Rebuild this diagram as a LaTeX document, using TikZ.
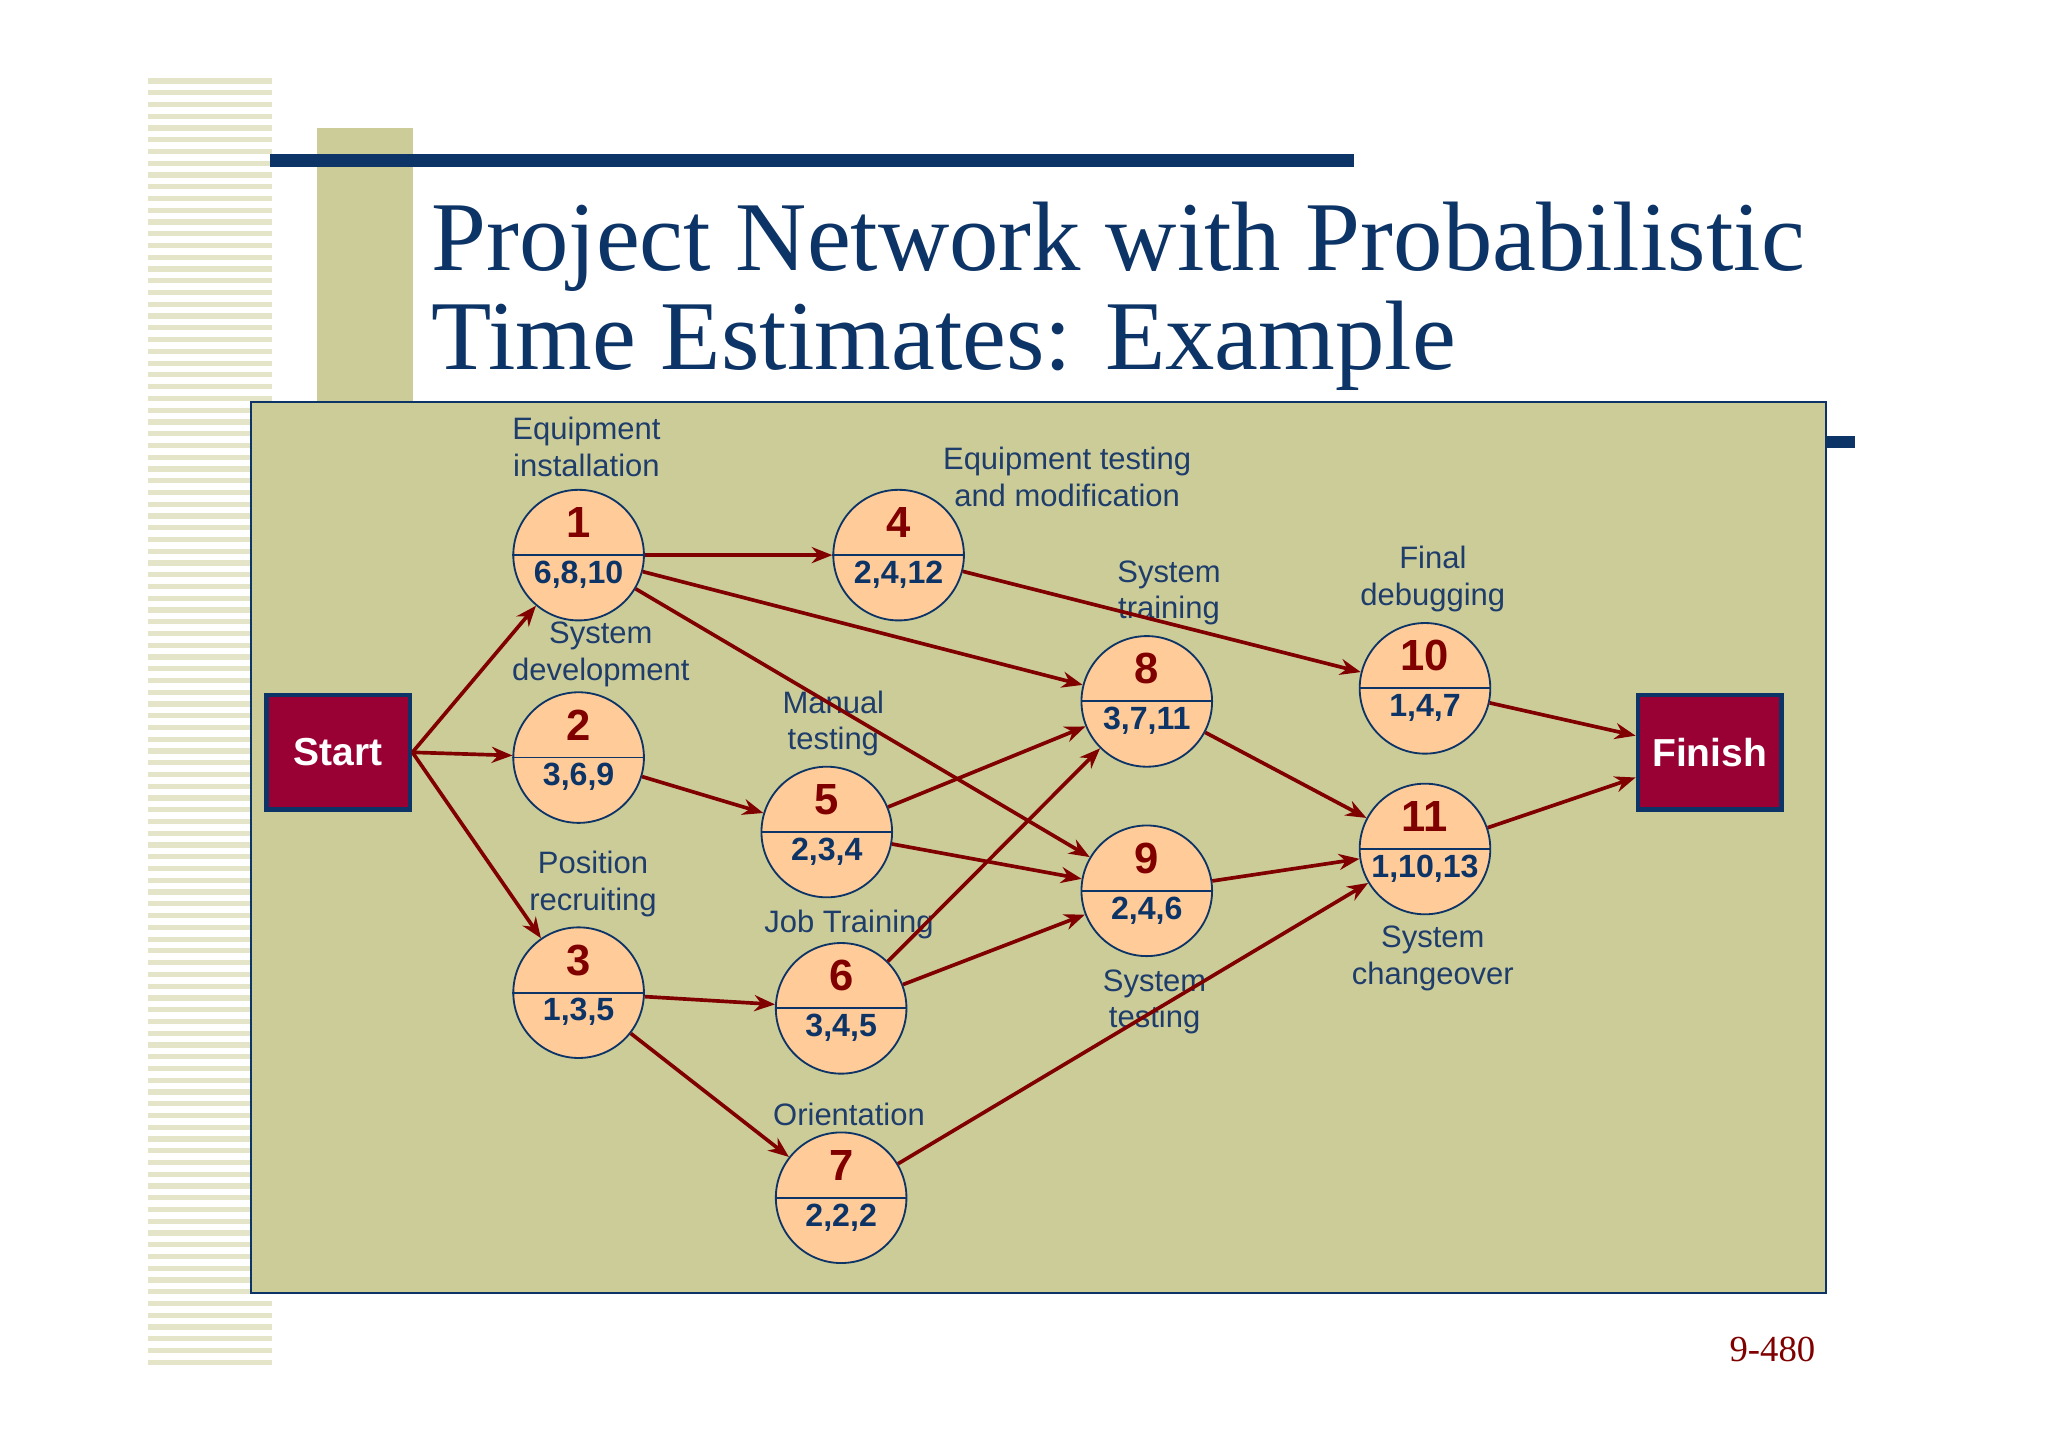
\documentclass[tikz,border=0pt]{standalone}
\usepackage{fontspec}
\setmainfont{Liberation Sans}
\newfontfamily\titlefont{Liberation Serif}
\usetikzlibrary{arrows.meta}
\definecolor{olive}{HTML}{CCCC99}
\definecolor{navy}{HTML}{0D3466}
\definecolor{lblue}{HTML}{1F3D6B}
\definecolor{dred}{HTML}{800000}
\definecolor{peach}{HTML}{FFCC99}
\definecolor{boxred}{HTML}{990033}
\definecolor{stripe}{HTML}{E4E4C8}
\tikzset{
 ev/.style={circle,draw=navy,line width=0.8pt,fill=peach,minimum size=2cm,inner sep=0pt},
 termbox/.style={draw=navy,line width=2pt,fill=boxred,minimum width=2.2cm,minimum height=1.75cm,text=white,font=\fontsize{17}{20}\selectfont\bfseries},
 lbl/.style={text=lblue,font=\fontsize{13.5}{16}\selectfont,align=center,inner sep=0pt},
 arr/.style={-{Stealth[length=9pt,width=7pt]},draw=dred,line width=1.6pt},
}
\newcommand{\evnode}[4]{%
 \node[ev] (#1) at (#2) {};
 \draw[navy,line width=0.8pt] (#1.west)--(#1.east);
 \node[text=dred,font=\fontsize{19}{22}\selectfont\bfseries] (#1n) at ([yshift=0.5cm]#1.center) {#3};
 \node[text=navy,font=\fontsize{14}{16}\selectfont\bfseries] (#1v) at ([yshift=-0.3cm]#1.center) {#4};
}
\begin{document}
\begin{tikzpicture}[x=0.2mm,y=-0.2mm]
\useasboundingbox (0,0) rectangle (1568,1108);
\fill[white] (0,0) rectangle (1568,1108);
\foreach \yy in {60,69,...,1045} \fill[stripe] (113,\yy) rectangle (208,\yy+4);
\fill[olive] (243,98) rectangle (316,308);
\fill[navy] (207,118) rectangle (1037,128);
\fill[navy] (1398,334) rectangle (1420,343);
\node[anchor=base west,text=navy,font=\titlefont\fontsize{43}{48}\selectfont,inner sep=0pt] (t1) at (330,207) {Project Network with Probabilistic};
\node[anchor=base west,text=navy,font=\titlefont\fontsize{43}{48}\selectfont,inner sep=0pt] (t2) at (330,283) {Time Estimates: Example};
\draw[navy,fill=olive,line width=0.8pt] (192,308) rectangle (1398,990);
\node[text=dred,font=\titlefont\fontsize{16}{18}\selectfont] (pg) at (1357,1033) {9-480};
\node[termbox] (S) at (259,576) {Start};
\node[termbox] (F) at (1309,576) {Finish};
\evnode{n1}{443,425}{1}{6,8,10}
\evnode{n2}{443,580}{2}{3,6,9}
\evnode{n3}{443,760}{3}{1,3,5}
\evnode{n4}{688,425}{4}{2,4,12}
\evnode{n5}{633,637}{5}{2,3,4}
\evnode{n6}{644,772}{6}{3,4,5}
\evnode{n7}{644,917}{7}{2,2,2}
\evnode{n8}{878,537}{8}{3,7,11}
\evnode{n9}{878,682}{9}{2,4,6}
\evnode{n10}{1091,527}{10}{1,4,7}
\evnode{n11}{1091,650}{11}{1,10,13}
\node[lbl] (L1) at (449,342) {Equipment\\installation};
\node[lbl] (L2) at (460,501) {System\\development};
\node[lbl] (L3) at (454,677) {Position\\recruiting};
\node[lbl] (L4) at (817,365) {Equipment testing\\and modification};
\node[lbl] (L5) at (638,554) {Manual\\testing};
\node[lbl] (L6) at (650,708) {Job Training};
\node[lbl] (L7) at (650,853) {Orientation};
\node[lbl] (L8) at (895,454) {System\\training};
\node[lbl] (L9) at (884,767) {System\\testing};
\node[lbl] (L10) at (1097,443) {Final\\debugging};
\node[lbl] (L11) at (1097,734) {System\\changeover};
\draw[arr] (S.east) -- (n1);
\draw[arr] (S.east) -- (n2);
\draw[arr] (S.east) -- (n3);
\draw[arr] (n1) -- (n4);
\draw[arr] (n1) -- (n8);
\draw[arr] (n1) -- (n9);
\draw[arr] (n2) -- (n5);
\draw[arr] (n3) -- (n6);
\draw[arr] (n3) -- (n7);
\draw[arr] (n4) -- (n10);
\draw[arr] (n5) -- (n8);
\draw[arr] (n5) -- (n9);
\draw[arr] (n6) -- (n8);
\draw[arr] (n6) -- (n9);
\draw[arr] (n7) -- (n11);
\draw[arr] (n8) -- (n11);
\draw[arr] (n9) -- (n11);
\draw[arr] (n10) -- (F);
\draw[arr] (n11) -- (F);
\end{tikzpicture}
\end{document}
